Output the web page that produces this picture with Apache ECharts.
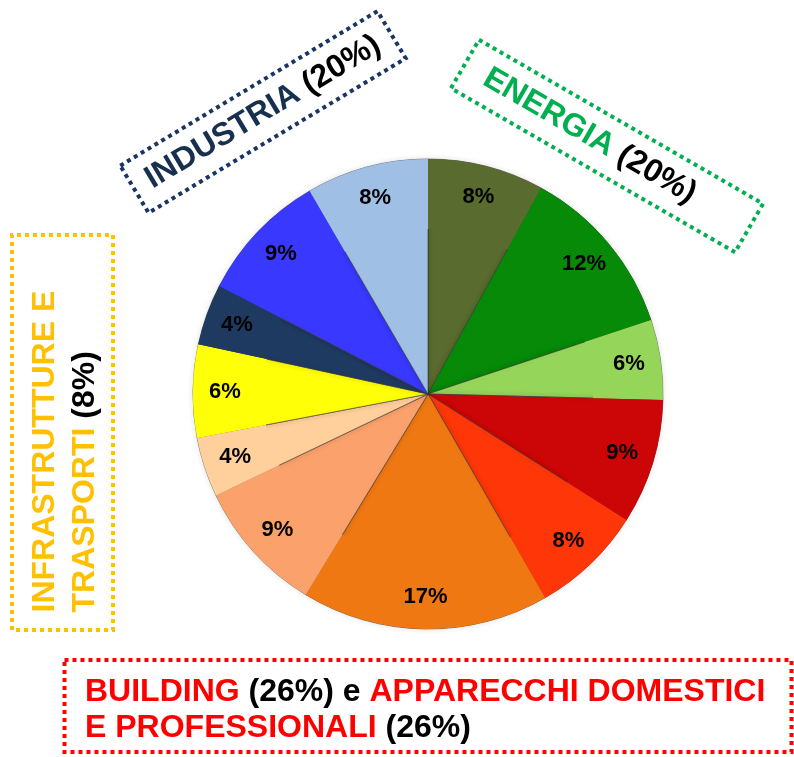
<!DOCTYPE html>
<html>
<head>
<meta charset="utf-8">
<script src="https://cdn.jsdelivr.net/npm/echarts@6/dist/echarts.min.js"></script>
<style>
  html, body { margin: 0; padding: 0; background: #fff; }
  #main { width: 794px; height: 757px; }
</style>
</head>
<body>
<div id="main"></div>
<script>
// quote percentuali, in senso orario dall'alto (etichette arrotondate)
var sliceNames = ['Energia 1', 'Energia 2', 'Energia 3', 'Building 1', 'Building 2', 'Building 3',
  'Building 4', 'Infrastrutture 1', 'Infrastrutture 2', 'Industria 1', 'Industria 2', 'Industria 3'];
var sliceValues = [8.0, 11.9, 5.5, 8.6, 7.7, 17.0, 9.2, 4.1, 6.4, 4.2, 9.0, 8.4];
var sliceColors = ['#596b2e', '#078a07', '#95d55a', '#cc0606', '#ff3608', '#f07812',
  '#fba26c', '#ffcf9c', '#ffff08', '#1f3a60', '#3838ff', '#a0bfe4'];

// riquadri di gruppo
var groupNames = ['INDUSTRIA', 'ENERGIA', 'INFRASTRUTTURE E', 'TRASPORTI', 'BUILDING', 'APPARECCHI DOMESTICI', 'E PROFESSIONALI'];
var groupPct = ['(20%)', '(20%)', '(8%)', '(26%)', '(26%)'];

var chart = echarts.init(document.getElementById('main'));
var FONT = 'Liberation Sans, Arial, sans-serif';

var pieData = sliceValues.map(function (v, i) {
  return { name: sliceNames[i], value: v, itemStyle: { color: sliceColors[i] } };
});

function dottedBox(cx, cy, w, h, rot, color, textStyle) {
  return {
    type: 'group',
    x: cx, y: cy,
    rotation: rot * Math.PI / 180,
    children: [
      {
        type: 'rect',
        shape: { x: -w / 2, y: -h / 2, width: w, height: h },
        style: { fill: null, stroke: color, lineWidth: 4, lineDash: [4, 4] }
      },
      { type: 'text', style: textStyle }
    ]
  };
}

chart.setOption({
  backgroundColor: '#fff',
  animation: false,
  series: [
    {
      type: 'pie',
      center: [428, 394],
      radius: [0, 235],
      startAngle: 90,
      silent: true,
      label: { show: false },
      labelLine: { show: false },
      itemStyle: {
        borderColor: 'rgba(50,50,50,0.55)', borderWidth: 1,
        shadowColor: 'rgba(0,0,0,0.12)', shadowBlur: 6
      },
      data: pieData
    },
    {
      // serie trasparente solo per posizionare le etichette verso il bordo
      type: 'pie',
      center: [428, 394],
      radius: [165, 235],
      startAngle: 90,
      silent: true,
      itemStyle: { color: 'rgba(0,0,0,0)' },
      label: {
        show: true,
        position: 'inside',
        formatter: function (p) { return Math.round(p.value) + '%'; },
        color: '#000',
        fontFamily: FONT,
        fontWeight: 'bold',
        fontSize: 22
      },
      labelLine: { show: false },
      data: pieData
    }
  ],
  graphic: [
    dottedBox(263, 112, 300, 55, 31, '#1a3563', {
      x: 0, y: 0, align: 'center', verticalAlign: 'middle',
      text: '{a|' + groupNames[0] + '} {b|' + groupPct[0] + '}',
      font: 'bold 32px ' + FONT,
      rich: {
        a: { fill: '#17304f', font: 'bold 32px ' + FONT },
        b: { fill: '#000', font: 'bold 32px ' + FONT }
      }
    }),
    dottedBox(607, 146, 328, 56, -30, '#00b050', {
      x: -20, y: 0, align: 'center', verticalAlign: 'middle',
      text: '{a|' + groupNames[1] + '} {b|' + groupPct[1] + '}',
      font: 'bold 32px ' + FONT,
      rich: {
        a: { fill: '#00b050', font: 'bold 32px ' + FONT },
        b: { fill: '#000', font: 'bold 32px ' + FONT }
      }
    }),
    dottedBox(62.5, 432.5, 395, 101, 90, '#ffc000', {
      x: -180, y: 3, align: 'left', verticalAlign: 'middle',
      text: '{a|' + groupNames[2] + '}\n{a|' + groupNames[3] + '} {b|' + groupPct[2] + '}',
      font: 'bold 32px ' + FONT,
      lineHeight: 40,
      rich: {
        a: { fill: '#ffc000', font: 'bold 32px ' + FONT, lineHeight: 40 },
        b: { fill: '#000', font: 'bold 32px ' + FONT, lineHeight: 40 }
      }
    }),
    dottedBox(428, 706, 727, 92, 0, '#ff0000', {
      x: -343, y: 4, align: 'left', verticalAlign: 'middle',
      text: '{a|' + groupNames[4] + '} {b|' + groupPct[3] + '} {b|e} {a|' + groupNames[5] + '}\n{a|' + groupNames[6] + '} {b|' + groupPct[4] + '}',
      font: 'bold 32px ' + FONT,
      lineHeight: 36,
      rich: {
        a: { fill: '#ff0000', font: 'bold 32px ' + FONT, lineHeight: 36 },
        b: { fill: '#000', font: 'bold 32px ' + FONT, lineHeight: 36 }
      }
    })
  ]
});
</script>
</body>
</html>
